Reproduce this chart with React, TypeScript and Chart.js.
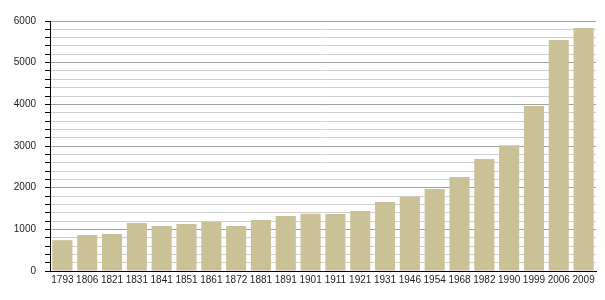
import React, { useEffect, useRef } from "react";
import { Chart, registerables } from "chart.js";

Chart.register(...registerables);

const years = ["1793","1806","1821","1831","1841","1851","1861","1872","1881","1891","1901","1911","1921","1931","1946","1954","1968","1982","1990","1999","2006","2009"];
const population = [740,864,888,1152,1080,1128,1183,1080,1224,1320,1375,1370,1440,1656,1784,1968,2256,2688,3016,3960,5544,5832];
const yTickLabels = ["0","1000","2000","3000","4000","5000","6000"];

export default function App() {
  const ref = useRef<HTMLCanvasElement>(null);
  useEffect(() => {
    document.body.style.margin = "0";
    const ctx = ref.current!;
    const chart = new Chart(ctx, {
      type: "bar",
      data: {
        labels: years,
        datasets: [{
          data: population,
          backgroundColor: "#cbc197",
          borderWidth: 0,
          barPercentage: 0.81,
          categoryPercentage: 1,
        }],
      },
      options: {
        animation: false,
        responsive: false,
        maintainAspectRatio: false,
        layout: { padding: { top: 21, right: 9, left: 0, bottom: 0 } },
        plugins: { legend: { display: false }, tooltip: { enabled: false } },
        scales: {
          x: {
            grid: { display: false, drawTicks: false },
            border: { color: "#000", width: 1 },
            ticks: {
              color: "#222",
              font: { family: "Liberation Sans, Arial", size: 10 },
              padding: 3,
              maxRotation: 0,
              autoSkip: false,
            },
            afterFit: (s: any) => { s.height = 29; },
          },
          y: {
            min: 0,
            max: 6000,
            border: { color: "#000", width: 1 },
            grid: {
              color: (c: any) => (c.tick && c.tick.value % 1000 === 0 ? "#a0a0a0" : "#cfcfcf"),
              tickColor: "#000",
              tickLength: 5,
              lineWidth: 1,
            },
            ticks: {
              stepSize: 200,
              autoSkip: false,
              color: "#222",
              font: { family: "Liberation Sans, Arial", size: 10 },
              padding: 9,
              callback: (v: any) => {
                const n = Number(v);
                return n % 1000 === 0 ? yTickLabels[n / 1000] : "";
              },
            },
            afterFit: (s: any) => { s.width = 50; },
          },
        },
      },
    });
    return () => chart.destroy();
  }, []);
  return (
    <div style={{ width: 605, height: 300 }}>
      <canvas ref={ref} width={605} height={300} style={{ width: 605, height: 300 }} />
    </div>
  );
}
